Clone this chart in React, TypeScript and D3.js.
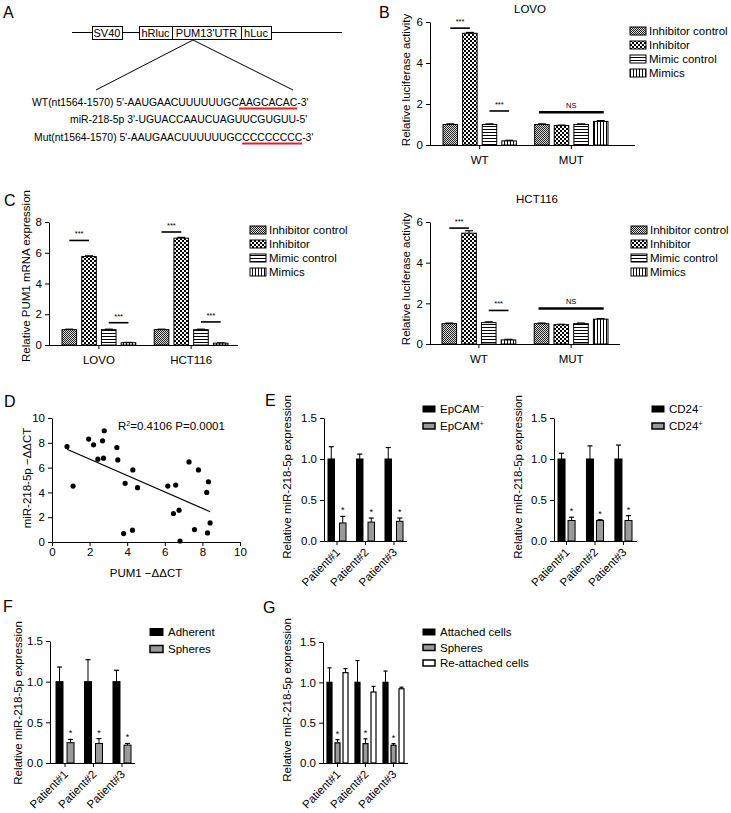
import React, { useEffect, useRef } from 'react';
import * as d3 from 'd3';

const W = 731;
const H = 813;
const FONT = '"Liberation Sans", Arial, sans-serif';
const GRAY = '#9a9a9a';

// ---- luciferase / PUM1 data ----
const lucGroups = ['WT', 'MUT'];
const lucSeries = ['Inhibitor control', 'Inhibitor', 'Mimic control', 'Mimics'];
const lovoLuc = [[1.0, 5.45, 1.0, 0.2], [1.0, 0.95, 1.0, 1.15]];
const lovoLucErr = [[0.03, 0.04, 0.03, 0.03], [0.03, 0.02, 0.03, 0.04]];
const hctLuc = [[1.0, 5.45, 1.05, 0.2], [1.0, 0.95, 1.0, 1.22]];
const hctLucErr = [[0.03, 0.12, 0.04, 0.03], [0.03, 0.02, 0.03, 0.03]];
const pumGroups = ['LOVO', 'HCT116'];
const pumValues = [[1.0, 5.75, 1.0, 0.15], [1.0, 6.95, 1.0, 0.12]];
const pumErr = [[0.03, 0.05, 0.03, 0.02], [0.03, 0.05, 0.03, 0.02]];

// significance marks: group, bar a, bar b, y value, text
const lovoSig = [
  [0, 0, 1, 5.7, '***'],
  [0, 2, 3, 1.66, '***'],
  [1, 0, 3, 1.6, 'NS'],
];
const hctSig = [
  [0, 0, 1, 5.7, '***'],
  [0, 2, 3, 1.65, '***'],
  [1, 0, 3, 1.75, 'NS'],
];
const pumSig = [
  [0, 0, 1, 6.8, '***'],
  [0, 2, 3, 1.45, '***'],
  [1, 0, 1, 7.35, '***'],
  [1, 2, 3, 1.5, '***'],
];

// ---- scatter data (D) ----
const pumDct = [0.8, 1.12, 1.95, 2.21, 2.44, 2.69, 2.78, 2.74, 3.45, 3.5, 3.81, 3.89, 4.3, 4.28, 4.55,
  6.16, 6.58, 6.46, 6.76, 6.81, 7.29, 7.79, 7.58, 8.32, 8.23, 8.41, 8.27];
const mirDct = [7.7, 4.51, 8.3, 7.84, 6.68, 8.16, 8.97, 6.76, 7.62, 6.62, 0.68, 4.73, 5.81, 0.95, 4.38,
  4.51, 4.59, 2.3, 2.57, 0.08, 6.46, 5.81, 1.0, 4.86, 4.0, 1.54, 0.73];

// ---- patient data (E, F, G) ----
const patients = ['Patient#1', 'Patient#2', 'Patient#3'];
const epcamNeg = [1.0, 1.0, 1.0];
const epcamNegErr = [0.15, 0.06, 0.14];
const epcamPos = [0.22, 0.23, 0.24];
const epcamPosErr = [0.08, 0.05, 0.04];
const cd24Neg = [1.0, 1.0, 1.0];
const cd24NegErr = [0.07, 0.16, 0.17];
const cd24Pos = [0.25, 0.25, 0.25];
const cd24PosErr = [0.04, 0.01, 0.06];
const adherent = [1.0, 1.0, 1.0];
const adherentErr = [0.18, 0.27, 0.14];
const spheres = [0.25, 0.24, 0.22];
const spheresErr = [0.04, 0.06, 0.02];
const reattached = [1.12, 0.88, 0.92];
const reattachedErr = [0.05, 0.07, 0.02];

const patFills = ['#000', GRAY, '#fff'];
const lucFills = ['url(#pDither)', 'url(#pChecker)', 'url(#pHline)', 'url(#pVline)'];

function addPatterns(svg: any) {
  const defs = svg.append('defs');
  const p1 = defs.append('pattern').attr('id', 'pDither').attr('patternUnits', 'userSpaceOnUse').attr('width', 2).attr('height', 2);
  p1.append('rect').attr('width', 2).attr('height', 2).attr('fill', '#ddd');
  p1.append('rect').attr('width', 1).attr('height', 1).attr('fill', '#222');
  p1.append('rect').attr('x', 1).attr('y', 1).attr('width', 1).attr('height', 1).attr('fill', '#222');
  const p2 = defs.append('pattern').attr('id', 'pChecker').attr('patternUnits', 'userSpaceOnUse').attr('width', 4).attr('height', 4);
  p2.append('rect').attr('width', 4).attr('height', 4).attr('fill', '#000');
  p2.append('rect').attr('width', 2).attr('height', 2).attr('fill', '#fff');
  p2.append('rect').attr('x', 2).attr('y', 2).attr('width', 2).attr('height', 2).attr('fill', '#fff');
  const p3 = defs.append('pattern').attr('id', 'pHline').attr('patternUnits', 'userSpaceOnUse').attr('width', 4).attr('height', 3);
  p3.append('rect').attr('width', 4).attr('height', 3).attr('fill', '#fff');
  p3.append('rect').attr('width', 4).attr('height', 1).attr('fill', '#000');
  const p4 = defs.append('pattern').attr('id', 'pVline').attr('patternUnits', 'userSpaceOnUse').attr('width', 3).attr('height', 4);
  p4.append('rect').attr('width', 3).attr('height', 4).attr('fill', '#fff');
  p4.append('rect').attr('width', 1).attr('height', 4).attr('fill', '#000');
}

function panelLetter(svg: any, t: string, x: number, y: number) {
  svg.append('text').attr('x', x).attr('y', y).attr('font-size', 16).text(t);
}

function yLabel(svg: any, t: string, x: number, y: number, fs = 11.5) {
  svg.append('text')
    .attr('transform', `translate(${x},${y}) rotate(-90)`)
    .attr('text-anchor', 'middle').attr('dy', '0.35em')
    .attr('font-size', fs).text(t);
}

function legend(svg: any, items: any[], x: number, y: number, dy: number, sw: number, sh: number, fs: number, gap: number) {
  items.forEach((it, i) => {
    const cy = y + i * dy;
    svg.append('rect').attr('x', x).attr('y', cy - sh / 2).attr('width', sw).attr('height', sh)
      .attr('fill', it.fill).attr('stroke', '#000').attr('stroke-width', it.sw || 1);
    const t = svg.append('text').attr('x', x + sw + gap).attr('y', cy).attr('dy', '0.36em')
      .attr('font-size', fs).text(it.label);
    if (it.sup) {
      t.append('tspan').attr('dy', -fs * 0.4).attr('font-size', fs * 0.6).text(it.sup);
    }
  });
}

function drawBars(svg: any, o: any) {
  const g = svg.append('g');
  const nS = o.values[0].length;
  const x0 = d3.scaleBand().domain(o.groups).range(o.xr).paddingInner(o.gp).paddingOuter(0);
  const x1 = d3.scaleBand().domain(d3.range(nS).map(String)).range([0, x0.bandwidth()])
    .paddingInner(o.bp).paddingOuter(0);
  const y = d3.scaleLinear().domain([0, o.yMax]).range(o.yr);
  const y0 = y(0);
  const bw = x1.bandwidth();
  const barX = (gi: number, si: number) => (x0(o.groups[gi]) as number) + (x1(String(si)) as number);

  const ya = g.append('g').attr('transform', `translate(${o.ax[0]},0)`)
    .call(d3.axisLeft(y).tickValues(o.ticks).tickSize(4).tickSizeOuter(0).tickPadding(3).tickFormat(o.fmt));
  ya.attr('font-family', FONT).attr('font-size', 11.5);
  ya.selectAll('text').attr('fill', '#000');

  o.groups.forEach((gr: string, gi: number) => {
    o.values[gi].forEach((v: number, si: number) => {
      const bx = barX(gi, si);
      const cx = bx + bw / 2;
      const e = o.errors[gi][si];
      g.append('line').attr('x1', cx).attr('x2', cx).attr('y1', y(v)).attr('y2', y(v + e))
        .attr('stroke', '#000').attr('stroke-width', 1);
      g.append('line').attr('x1', cx - o.cap).attr('x2', cx + o.cap).attr('y1', y(v + e)).attr('y2', y(v + e))
        .attr('stroke', '#000').attr('stroke-width', 1.2);
      g.append('rect').attr('x', bx).attr('y', y(v)).attr('width', bw).attr('height', y0 - y(v))
        .attr('fill', o.fills[si]).attr('stroke', '#000').attr('stroke-width', o.strokeW || 1);
      if (o.stars && o.stars[si]) {
        g.append('text').attr('x', cx).attr('y', y(v + e) - 3).attr('text-anchor', 'middle')
          .attr('font-size', 9).text('*');
      }
    });
  });

  // x axis
  g.append('line').attr('x1', o.ax[0]).attr('x2', o.ax[1]).attr('y1', y0 + 0.5).attr('y2', y0 + 0.5)
    .attr('stroke', '#000');
  o.groups.forEach((gr: string) => {
    const cx = (x0(gr) as number) + x0.bandwidth() / 2;
    g.append('line').attr('x1', cx).attr('x2', cx).attr('y1', y0).attr('y2', y0 + 4).attr('stroke', '#000');
    if (o.rotate) {
      g.append('text').attr('transform', `translate(${cx + 1},${y0 + 9}) rotate(-45)`)
        .attr('text-anchor', 'end').attr('dy', '0.35em').attr('font-size', 11.5).text(gr);
    } else {
      g.append('text').attr('x', cx).attr('y', y0 + 19).attr('text-anchor', 'middle')
        .attr('font-size', 11.5).text(gr);
    }
  });

  // significance lines
  (o.sig || []).forEach((s: any) => {
    const [gi, a, b, v, txt] = s;
    const xa = barX(gi, a) + bw / 2 + (txt === 'NS' ? -3 : 0);
    const xb = barX(gi, b) + bw / 2 + (txt === 'NS' ? 3 : 0);
    g.append('line').attr('x1', xa).attr('x2', xb).attr('y1', y(v)).attr('y2', y(v))
      .attr('stroke', '#000').attr('stroke-width', txt === 'NS' ? 2.5 : 1.6);
    g.append('text').attr('x', (xa + xb) / 2).attr('y', y(v) - 4).attr('text-anchor', 'middle')
      .attr('font-size', 7.5).text(txt);
  });
}

function drawPanelA(svg: any) {
  const g = svg.append('g').attr('font-size', 11);
  g.append('line').attr('x1', 72).attr('x2', 342).attr('y1', 32.5).attr('y2', 32.5).attr('stroke', '#000');
  const boxes = [['SV40', 92, 122], ['hRluc', 139, 172], ["PUM13'UTR", 172, 241], ['hLuc', 241, 271]];
  boxes.forEach((b: any) => {
    g.append('rect').attr('x', b[1] + 0.5).attr('y', 26.5).attr('width', b[2] - b[1]).attr('height', 13)
      .attr('fill', '#fff').attr('stroke', '#000');
    g.append('text').attr('x', (b[1] + b[2]) / 2).attr('y', 33).attr('dy', '0.36em')
      .attr('text-anchor', 'middle').text(b[0]);
  });
  g.append('line').attr('x1', 193).attr('y1', 40).attr('x2', 96).attr('y2', 90).attr('stroke', '#000');
  g.append('line').attr('x1', 193).attr('y1', 40).attr('x2', 293).attr('y2', 90).attr('stroke', '#000');

  const seq = (x: number, y: number, s: string, u0: number, u1: number) => {
    const t = g.append('text').attr('x', x).attr('y', y).attr('font-size', 10.4).text(s);
    if (u0 >= 0) {
      const n: any = t.node();
      const xs = n.getStartPositionOfChar(u0).x;
      const xe = n.getEndPositionOfChar(u1).x;
      g.append('line').attr('x1', xs).attr('x2', xe).attr('y1', y + 2.5).attr('y2', y + 2.5)
        .attr('stroke', '#e8202a').attr('stroke-width', 2);
    }
  };
  const wt = "WT(nt1564-1570) 5'-AAUGAACUUUUUUGCAAGCACAC-3'";
  const mut = "Mut(nt1564-1570) 5'-AAUGAACUUUUUUGCCCCCCCCC-3'";
  seq(32, 106, wt, wt.indexOf('AAGCACAC'), wt.indexOf('AAGCACAC') + 7);
  seq(70, 123, "miR-218-5p  3'-UGUACCAAUCUAGUUCGUGUU-5'", -1, -1);
  seq(34, 141, mut, mut.indexOf('-3') - 8, mut.indexOf('-3') - 1);
}

function drawScatter(svg: any) {
  const g = svg.append('g');
  const x = d3.scaleLinear().domain([0, 10]).range([52, 240]);
  const y = d3.scaleLinear().domain([0, 10]).range([542, 418]);
  const xa = g.append('g').attr('transform', 'translate(0,542)')
    .call(d3.axisBottom(x).tickValues([0, 2, 4, 6, 8, 10]).tickSize(4).tickSizeOuter(0).tickPadding(2));
  const ya = g.append('g').attr('transform', 'translate(52,0)')
    .call(d3.axisLeft(y).tickValues([0, 2, 4, 6, 8, 10]).tickSize(4).tickSizeOuter(0).tickPadding(3));
  [xa, ya].forEach((a: any) => {
    a.attr('font-family', FONT).attr('font-size', 11.5);
    a.selectAll('text').attr('fill', '#000');
  });
  // least squares fit
  const mx = d3.mean(pumDct) as number;
  const my = d3.mean(mirDct) as number;
  let sxy = 0;
  let sxx = 0;
  pumDct.forEach((v, i) => {
    sxy += (v - mx) * (mirDct[i] - my);
    sxx += (v - mx) * (v - mx);
  });
  const slope = sxy / sxx;
  const x0 = d3.min(pumDct) as number;
  const x1 = d3.max(pumDct) as number;
  g.append('line').attr('x1', x(x0)).attr('y1', y(my + slope * (x0 - mx)))
    .attr('x2', x(x1)).attr('y2', y(my + slope * (x1 - mx)))
    .attr('stroke', '#000').attr('stroke-width', 1.2);
  g.selectAll('circle.pt').data(pumDct).enter().append('circle')
    .attr('cx', (d: number) => x(d)).attr('cy', (d: number, i: number) => y(mirDct[i]))
    .attr('r', 2.6).attr('fill', '#000');
  const t = g.append('text').attr('x', 118).attr('y', 430).attr('font-size', 11.5);
  t.append('tspan').text('R');
  t.append('tspan').attr('dy', -4).attr('font-size', 7).text('2');
  t.append('tspan').attr('dy', 4).text('=0.4106  P=0.0001');
  g.append('text').attr('x', 146).attr('y', 577).attr('text-anchor', 'middle').attr('font-size', 11.5)
    .text('PUM1 \u2212\u0394\u0394CT');
  yLabel(g, 'miR-218-5p \u2212\u0394\u0394CT', 27, 478);
}

function draw(svg: any) {
  addPatterns(svg);
  svg.attr('font-family', FONT);

  panelLetter(svg, 'A', 3, 18);
  panelLetter(svg, 'B', 379, 18);
  panelLetter(svg, 'C', 4, 206);
  panelLetter(svg, 'D', 4, 407);
  panelLetter(svg, 'E', 265, 406);
  panelLetter(svg, 'F', 3, 612);
  panelLetter(svg, 'G', 263, 613);

  drawPanelA(svg);

  const lucLegend = lucSeries.map((s, i) => ({ label: s, fill: lucFills[i] }));
  const fmtInt = d3.format('d');
  const fmt1 = d3.format('.1f');

  // B - LOVO
  svg.append('text').attr('x', 530).attr('y', 13).attr('text-anchor', 'middle').attr('font-size', 11.5).text('LOVO');
  drawBars(svg, {
    groups: lucGroups, values: lovoLuc, errors: lovoLucErr, fills: lucFills,
    xr: [443, 608], gp: 0.2, bp: 0.26, ax: [430, 635], yr: [145, 22], yMax: 6,
    ticks: [0, 2, 4, 6], fmt: fmtInt, cap: 4, sig: lovoSig,
  });
  yLabel(svg, 'Relative luciferase activity', 406, 80);
  legend(svg, lucLegend, 630, 31, 14, 16, 8, 11.5, 3);

  // C - PUM1 mRNA
  drawBars(svg, {
    groups: pumGroups, values: pumValues, errors: pumErr, fills: lucFills,
    xr: [62, 228], gp: 0.2, bp: 0.26, ax: [49, 238], yr: [345, 222], yMax: 8,
    ticks: [0, 2, 4, 6, 8], fmt: fmtInt, cap: 4, sig: pumSig,
  });
  yLabel(svg, 'Relative PUM1 mRNA expression', 26, 276);
  legend(svg, lucLegend, 250, 230, 14, 16, 8, 11.5, 3);

  // B - HCT116
  svg.append('text').attr('x', 537).attr('y', 203).attr('text-anchor', 'middle').attr('font-size', 11.5).text('HCT116');
  drawBars(svg, {
    groups: lucGroups, values: hctLuc, errors: hctLucErr, fills: lucFills,
    xr: [442, 608], gp: 0.2, bp: 0.26, ax: [430, 620], yr: [344, 222], yMax: 6,
    ticks: [0, 2, 4, 6], fmt: fmtInt, cap: 4, sig: hctSig,
  });
  yLabel(svg, 'Relative luciferase activity', 406, 279);
  legend(svg, lucLegend, 631, 230, 14, 16, 8, 11.5, 3);

  // D
  drawScatter(svg);

  // E - EpCAM
  drawBars(svg, {
    groups: patients, values: d3.transpose([epcamNeg, epcamPos]), errors: d3.transpose([epcamNegErr, epcamPosErr]),
    fills: patFills, xr: [328, 403], gp: 0.368, bp: 0.435, ax: [324, 407], yr: [541, 418], yMax: 1.5,
    ticks: [0, 0.5, 1, 1.5], fmt: fmt1, cap: 2.5, rotate: true, stars: [false, true],
  });
  yLabel(svg, 'Relative miR-218-5p expression', 287, 477);
  legend(svg, [
    { label: 'EpCAM', sup: '\u2212', fill: '#000' },
    { label: 'EpCAM', sup: '+', fill: GRAY, sw: 1.5 },
  ], 423, 409, 17, 12, 6, 11.5, 5);

  // E - CD24
  drawBars(svg, {
    groups: patients, values: d3.transpose([cd24Neg, cd24Pos]), errors: d3.transpose([cd24NegErr, cd24PosErr]),
    fills: patFills, xr: [558, 632], gp: 0.4, bp: 0.3, ax: [554, 637], yr: [541, 418], yMax: 1.5,
    ticks: [0, 0.5, 1, 1.5], fmt: fmt1, cap: 2.5, rotate: true, stars: [false, true],
  });
  yLabel(svg, 'Relative miR-218-5p expression', 518, 477);
  legend(svg, [
    { label: 'CD24', sup: '\u2212', fill: '#000' },
    { label: 'CD24', sup: '+', fill: GRAY, sw: 1.5 },
  ], 652, 409, 17, 12, 6, 11.5, 5);

  // F
  drawBars(svg, {
    groups: patients, values: d3.transpose([adherent, spheres]), errors: d3.transpose([adherentErr, spheresErr]),
    fills: patFills, xr: [56, 131], gp: 0.368, bp: 0.364, ax: [50, 135], yr: [763, 641], yMax: 1.5,
    ticks: [0, 0.5, 1, 1.5], fmt: fmt1, cap: 2.5, rotate: true, stars: [false, true],
  });
  yLabel(svg, 'Relative miR-218-5p expression', 18, 703);
  legend(svg, [
    { label: 'Adherent', fill: '#000' },
    { label: 'Spheres', fill: GRAY, sw: 1.5 },
  ], 150, 632, 17, 13, 7, 11.5, 5);

  // G
  drawBars(svg, {
    groups: patients, values: d3.transpose([adherent, spheres, reattached]),
    errors: d3.transpose([adherentErr, spheresErr, reattachedErr]),
    fills: patFills, xr: [327, 404], gp: 0.25, bp: 0.375, ax: [323, 408], yr: [763, 642], yMax: 1.5,
    ticks: [0, 0.5, 1, 1.5], fmt: fmt1, cap: 2, rotate: true, stars: [false, true, false], strokeW: 1.2,
  });
  yLabel(svg, 'Relative miR-218-5p expression', 287, 700);
  legend(svg, [
    { label: 'Attached cells', fill: '#000' },
    { label: 'Spheres', fill: GRAY, sw: 1.5 },
    { label: 'Re-attached cells', fill: '#fff', sw: 1.5 },
  ], 423, 632, 15.5, 12, 6, 11.5, 5);
}

export default function App() {
  const ref = useRef<SVGSVGElement>(null);

  useEffect(() => {
    const svg = d3.select(ref.current);
    svg.selectAll('*').remove();
    draw(svg);
  }, []);

  return (
    <svg
      ref={ref}
      width={W}
      height={H}
      style={{ position: 'absolute', left: 0, top: 0, background: '#fff' }}
    />
  );
}
